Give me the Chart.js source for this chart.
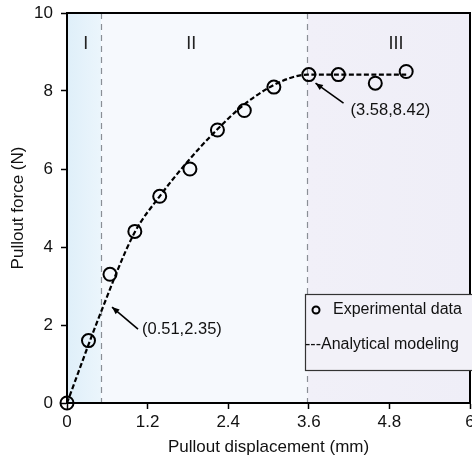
<!DOCTYPE html>
<html>
<head>
<meta charset="utf-8">
<script src="https://cdn.jsdelivr.net/npm/chart.js@4.4.1/dist/chart.umd.min.js"></script>
<style>
  html, body { margin: 0; padding: 0; background: #fff; }
  #wrap { width: 472px; height: 461px; overflow: hidden; }
  #box { width: 480px; height: 461px; }
</style>
</head>
<body>
<div id="wrap"><div id="box"><canvas id="chart"></canvas></div></div>
<script>
// données
const expX = [0, 0.32, 0.64, 1.01, 1.38, 1.83, 2.24, 2.64, 3.08, 3.6, 4.04, 4.59, 5.05];
const expY = [0, 1.6, 3.3, 4.4, 5.3, 6.0, 7.0, 7.5, 8.1, 8.42, 8.42, 8.2, 8.5];

const modelX = [0, 0.51, 1.0, 1.38, 1.8, 2.2, 2.6, 3.0, 3.3, 3.58, 4.2, 5.05];
const modelY = [0, 2.35, 4.35, 5.3, 6.2, 6.95, 7.6, 8.08, 8.32, 8.42, 8.42, 8.42];

const regionBounds = [0, 0.51, 3.58, 6];
const regionLabels = ['I', 'II', 'III'];
const xTicks = [0, 1.2, 2.4, 3.6, 4.8, 6];
const yTicks = [0, 2, 4, 6, 8, 10];

const keyPoints = [[0.51, 2.35], [3.58, 8.42]];

const police = 'Liberation Sans, Arial, sans-serif';

// zones I, II, III + lignes pointillées
const zonesPlugin = {
  id: 'zones',
  beforeDatasetsDraw(chart) {
    const { ctx, chartArea: a, scales: { x, y } } = chart;
    const couleurs = [['#dfeff9', '#ebf5fc'], ['#f6f9fd', '#f6f9fd'], ['#f1f0f8', '#efeef7']];
    ctx.save();
    for (let i = 0; i < 3; i++) {
      const x0 = x.getPixelForValue(regionBounds[i]);
      const x1 = x.getPixelForValue(regionBounds[i + 1]);
      const g = ctx.createLinearGradient(x0, 0, x1, 0);
      g.addColorStop(0, couleurs[i][0]);
      g.addColorStop(1, couleurs[i][1]);
      ctx.fillStyle = g;
      ctx.fillRect(x0, a.top, x1 - x0, a.bottom - a.top);
    }
    ctx.strokeStyle = '#8a8f96';
    ctx.lineWidth = 1.2;
    ctx.setLineDash([6, 5]);
    [regionBounds[1], regionBounds[2]].forEach(v => {
      const px = Math.round(x.getPixelForValue(v)) + 0.5;
      ctx.beginPath();
      ctx.moveTo(px, a.top);
      ctx.lineTo(px, a.bottom);
      ctx.stroke();
    });
    ctx.setLineDash([]);
    // étiquettes des zones
    ctx.fillStyle = '#222';
    ctx.font = '18px ' + police;
    ctx.textAlign = 'center';
    ctx.textBaseline = 'middle';
    const labelX = [0.28, 1.85, 4.9];
    regionLabels.forEach((t, i) => {
      ctx.fillText(t, x.getPixelForValue(labelX[i]), y.getPixelForValue(9.2));
    });
    ctx.restore();
  },
  afterDraw(chart) {
    const { ctx, chartArea: a, scales: { x, y } } = chart;
    ctx.save();
    // cadre
    ctx.strokeStyle = '#000';
    ctx.lineWidth = 2;
    ctx.strokeRect(a.left, a.top, a.right - a.left, a.bottom - a.top);

    // flèches et annotations
    ctx.lineWidth = 1.6;
    ctx.fillStyle = '#000';
    const fleche = (tx, ty, fx, fy) => {
      ctx.beginPath();
      ctx.moveTo(fx, fy);
      ctx.lineTo(tx, ty);
      ctx.stroke();
      const ang = Math.atan2(ty - fy, tx - fx);
      ctx.beginPath();
      ctx.moveTo(tx, ty);
      ctx.lineTo(tx - 8 * Math.cos(ang - 0.4), ty - 8 * Math.sin(ang - 0.4));
      ctx.lineTo(tx - 8 * Math.cos(ang + 0.4), ty - 8 * Math.sin(ang + 0.4));
      ctx.closePath();
      ctx.fill();
    };
    const p1x = x.getPixelForValue(0.67), p1y = y.getPixelForValue(2.46);
    fleche(p1x, p1y, p1x + 26, p1y + 22);
    const p2x = x.getPixelForValue(3.7), p2y = y.getPixelForValue(8.2);
    fleche(p2x, p2y, p2x + 28, p2y + 20);

    ctx.font = '16.5px ' + police;
    ctx.textAlign = 'left';
    ctx.textBaseline = 'middle';
    ctx.fillStyle = '#111';
    ctx.fillText('(' + keyPoints[0].join(',') + ')', p1x + 30, p1y + 22);
    ctx.fillText('(' + keyPoints[1].join(',') + ')', p2x + 35, p2y + 27);

    // légende
    const lx = 305, ly = 294, lw = 200, lh = 76;
    ctx.fillStyle = '#f2f1f8';
    ctx.fillRect(lx, ly, lw, lh);
    ctx.strokeStyle = '#333';
    ctx.lineWidth = 1.2;
    ctx.strokeRect(lx + 0.5, ly + 0.5, lw, lh);
    ctx.beginPath();
    ctx.arc(316, 310, 3.5, 0, Math.PI * 2);
    ctx.lineWidth = 2;
    ctx.strokeStyle = '#000';
    ctx.stroke();
    ctx.font = '16px ' + police;
    ctx.fillStyle = '#111';
    ctx.fillText('Experimental data', 333, 310);
    ctx.fillText('---Analytical modeling', 305, 345);
    ctx.restore();
  }
};

const ctx = document.getElementById('chart').getContext('2d');
new Chart(ctx, {
  type: 'scatter',
  data: {
    datasets: [
      {
        label: 'Analytical modeling',
        data: modelX.map((v, i) => ({ x: v, y: modelY[i] })),
        showLine: true,
        borderColor: '#000',
        borderWidth: 2.2,
        borderDash: [5, 2.5],
        pointRadius: 0,
        cubicInterpolationMode: 'monotone',
        order: 2
      },
      {
        label: 'Experimental data',
        data: expX.map((v, i) => ({ x: v, y: expY[i] })),
        showLine: false,
        pointStyle: 'circle',
        pointRadius: 6.5,
        borderColor: '#000',
        borderWidth: 2,
        backgroundColor: 'rgba(0,0,0,0)',
        clip: false,
        order: 1
      }
    ]
  },
  options: {
    responsive: true,
    maintainAspectRatio: false,
    animation: false,
    layout: { padding: { top: 13, right: 10, left: 0, bottom: 0 } },
    plugins: {
      legend: { display: false },
      tooltip: { enabled: false }
    },
    scales: {
      x: {
        type: 'linear',
        min: 0,
        max: 6,
        afterBuildTicks(s) { s.ticks = xTicks.map(v => ({ value: v })); },
        afterFit(s) { s.height = 58; s.paddingLeft = 0; s.paddingRight = 0; },
        ticks: {
          color: '#111',
          font: { family: police, size: 17 },
          padding: 3,
          callback: v => String(v)
        },
        grid: { drawOnChartArea: false, color: '#000', tickLength: 6, tickWidth: 1.5 },
        border: { color: '#000', width: 2 },
        title: {
          display: true,
          text: 'Pullout displacement (mm)',
          color: '#111',
          font: { family: police, size: 17 },
          padding: { top: 0, bottom: 3 }
        }
      },
      y: {
        min: 0,
        max: 10,
        afterBuildTicks(s) { s.ticks = yTicks.map(v => ({ value: v })); },
        afterFit(s) { s.width = 67; s.paddingTop = 0; s.paddingBottom = 0; },
        ticks: {
          color: '#111',
          font: { family: police, size: 17 },
          padding: 8
        },
        grid: { drawOnChartArea: false, color: '#000', tickLength: 6, tickWidth: 1.5 },
        border: { color: '#000', width: 2 },
        title: {
          display: true,
          text: 'Pullout force (N)',
          color: '#111',
          font: { family: police, size: 17 },
          padding: { top: 8, bottom: 0 }
        }
      }
    }
  },
  plugins: [zonesPlugin]
});
</script>
</body>
</html>
